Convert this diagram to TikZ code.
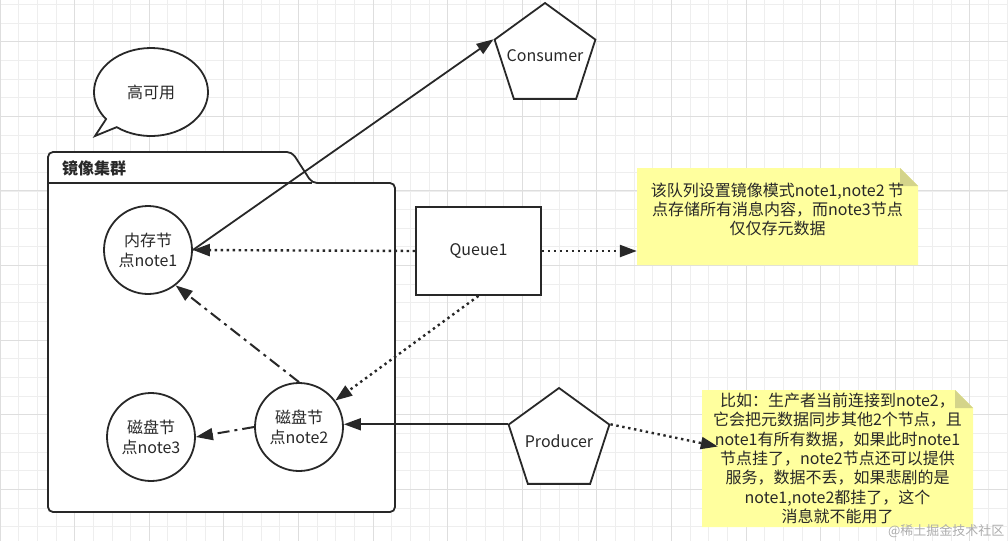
\documentclass[tikz,border=0pt]{standalone}
\usepackage{fontspec}
\setmainfont{Noto Sans CJK SC}
\usetikzlibrary{arrows.meta,shapes.geometric,shapes.callouts}

\definecolor{gridminor}{RGB}{238,238,238}
\definecolor{gridmajor}{RGB}{222,222,222}
\definecolor{notefill}{RGB}{255,255,158}
\definecolor{notefold}{RGB}{212,212,138}
\definecolor{ink}{RGB}{40,40,40}

\begin{document}
\begin{tikzpicture}[
            x=1pt, y=-1pt,
            font=\fontsize{16}{20}\selectfont,
            every node/.style={text=ink},
            roundnode/.style={circle, draw=ink, line width=1.8pt, fill=white, minimum size=88pt, inner sep=0pt, align=center},
            penta/.style={regular polygon, regular polygon sides=5, draw=ink, line width=1.8pt, fill=white, minimum size=106pt, inner sep=0pt},
            box/.style={rectangle, draw=ink, line width=1.8pt, fill=white, minimum width=125pt, minimum height=88pt},
            notebox/.style={rectangle, inner sep=0pt, align=center, font=\fontsize{16}{19.3}\selectfont,
                path picture={
                    \fill[notefill] (path picture bounding box.north west) -- ([xshift=-18pt]path picture bounding box.north east)
                        -- ([yshift=-18pt]path picture bounding box.north east) -- (path picture bounding box.south east)
                        -- (path picture bounding box.south west) -- cycle;
                    \fill[notefold] ([xshift=-18pt]path picture bounding box.north east) -- ([xshift=-18pt,yshift=-18pt]path picture bounding box.north east)
                        -- ([yshift=-18pt]path picture bounding box.north east) -- cycle;
                }},
            arrow/.style={-{Triangle[length=17pt,width=12pt]}, draw=ink, line width=1.8pt},
            dots/.style={arrow, line width=2.4pt, dash pattern=on 2.4pt off 3.6pt},
            dashdot/.style={arrow, line width=2pt, dash pattern=on 12pt off 5pt on 3pt off 5pt}
        ]
            \useasboundingbox (0,0) rectangle (1008,541);

            % Grid
            \foreach \k in {0,...,54}
                \draw[gridminor, line width=0.8pt] (\k*18.65,0) -- (\k*18.65,541);
            \foreach \k in {0,...,28}
                \draw[gridminor, line width=0.8pt] (0,4.4+\k*18.65) -- (1008,4.4+\k*18.65);
            \foreach \k in {0,...,13}
                \draw[gridmajor, line width=1pt] (\k*74.6,0) -- (\k*74.6,541);
            \foreach \k in {0,...,6}
                \draw[gridmajor, line width=1pt] (0,41.7+\k*74.6) -- (1008,41.7+\k*74.6);

            % Cluster folder
            \draw[ink, line width=1.8pt, fill=white, rounded corners=5pt]
                (48,512) -- (48,152) -- (292,152) -- (312,183) -- (395,183) -- (395,512) -- cycle;
            \draw[ink, line width=1.8pt] (48,183) -- (312,183);
            \node[font=\bfseries\fontsize{16}{20}\selectfont] (cluster) at (94,168) {镜像集群};

            % Nodes
            \node[ellipse callout, draw=ink, line width=1.8pt, fill=white, minimum width=114pt, minimum height=88pt,
                callout absolute pointer={(95,136)}] (bubble) at (151,92) {高可用};
            \node[roundnode] (mem1) at (148,250) {内存节\\点note1};
            \node[roundnode] (disk3) at (151,437) {磁盘节\\点note3};
            \node[roundnode] (disk2) at (299,427) {磁盘节\\点note2};
            \node[box] (queue) at (478.5,251) {Queue1};
            \node[penta] (consumer) at (545,56) {\makebox[0pt]{Consumer}};
            \node[penta] (producer) at (559,441) {\makebox[0pt]{Producer}};
            \node[notebox, minimum width=281pt, minimum height=97pt] (note1) at (777.5,216.5) {};
            \node[align=center, font=\fontsize{16}{19.3}\selectfont] (note1text) at ([yshift=7pt]note1.center)
                {该队列设置镜像模式note1,note2 节\\点存储所有消息内容，而note3节点\\仅仅存元数据};
            \node[notebox, minimum width=271pt, minimum height=137pt] (note2) at (837.5,458.5)
                {比如：生产者当前连接到note2，\\它会把元数据同步其他2个节点，且\\note1有所有数据，如果此时note1\\节点挂了，note2节点还可以提供\\服务，数据不丢，如果悲剧的是\\note1,note2都挂了，这个\\消息就不能用了};
            \node[anchor=east, text=gray!65, font=\fontsize{13}{15}\selectfont] (mark) at (1008,531) {@稀土掘金技术社区};

            % Arrows
            \draw[arrow] (mem1.east) -- (consumer.corner 2);
            \draw[dots] (queue.west) -- (mem1.east);
            \draw[dots] (queue.south) -- (disk2);
            \draw[dots] (queue.east) -- (queue.east -| note1.west);
            \draw[dashdot] (disk2.north) -- (mem1.-52);
            \draw[dashdot] (disk2.west) -- (disk3.east);
            \draw[arrow] (producer.corner 2) -- (disk2.east |- producer.corner 2);
            \draw[dots] (producer.corner 5) -- ([xshift=16pt,yshift=12pt]note2.west);
        \end{tikzpicture}
\end{document}
